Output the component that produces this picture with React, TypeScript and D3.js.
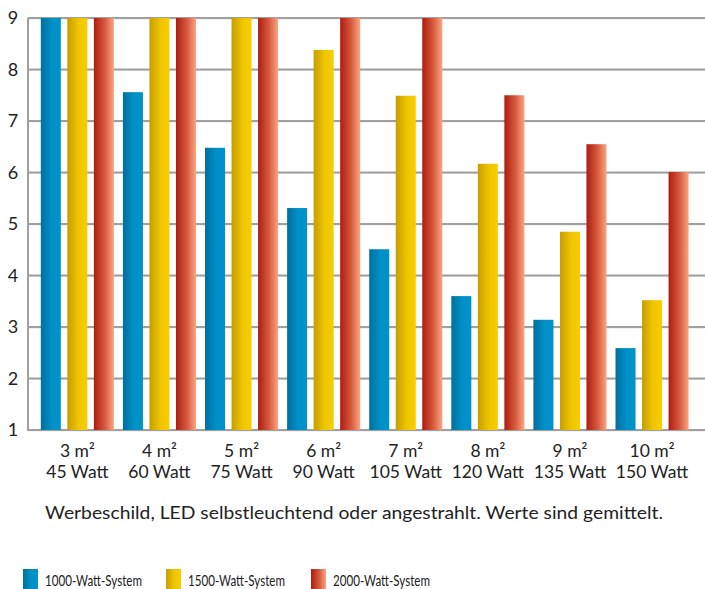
import React from "react";
import * as d3 from "d3";

const categories = ["3 m²|45 Watt", "4 m²|60 Watt", "5 m²|75 Watt", "6 m²|90 Watt", "7 m²|105 Watt", "8 m²|120 Watt", "9 m²|135 Watt", "10 m²|150 Watt"];
const seriesNames = ["1000-Watt-System", "1500-Watt-System", "2000-Watt-System"];
const s1000 = [9, 7.56, 6.48, 5.31, 4.51, 3.6, 3.14, 2.59];
const s1500 = [9, 9, 9, 8.38, 7.49, 6.17, 4.85, 3.52];
const s2000 = [9, 9, 9, 9, 9, 7.5, 6.55, 6.01];
const yTicks = [1, 2, 3, 4, 5, 6, 7, 8, 9];
const caption = "Werbeschild, LED selbstleuchtend oder angestrahlt. Werte sind gemittelt.";

const gradients = [
  ["#00709e", "#0090c8", "#0092ca"],
  ["#c69e00", "#efc500", "#f8cd00"],
  ["#ae1c0f", "#d65a3e", "#fba583"],
];

const W = 705, H = 589;
const FONT = "Lato, 'Open Sans', sans-serif";

export default function App() {
  const values = [s1000, s1500, s2000];
  const x0 = d3.scaleBand<string>().domain(categories).range([36.3, 693.1]).paddingInner(0).paddingOuter(0);
  const x1 = d3.scaleBand<number>().domain([0, 1, 2]).range([0, x0.bandwidth()]).paddingInner(0.245).paddingOuter(0.17);
  const y = d3.scaleLinear().domain([1, 9]).range([430, 18]);
  const left = 28;

  return (
    <svg width={W} height={H} style={{ position: "absolute", left: 0, top: 0, background: "#fff" }} fontFamily={FONT}>
      <defs>
        {gradients.map((g, i) => (
          <linearGradient key={i} id={`g${i}`} x1="0" x2="1" y1="0" y2="0">
            <stop offset="0%" stopColor={g[0]} />
            <stop offset="55%" stopColor={g[1]} />
            <stop offset="100%" stopColor={g[2]} />
          </linearGradient>
        ))}
      </defs>
      {yTicks.map((t) => (
        <g key={t}>
          <line x1={left} x2={W} y1={y(t) + 1} y2={y(t) + 1} stroke="#e6e6e6" strokeWidth={1} />
          <line x1={left} x2={W} y1={y(t)} y2={y(t)} stroke="#a0a0a0" strokeWidth={2} />
          <text x={13} y={y(t)} dy="0.36em" textAnchor="middle" fontSize={18} fill="#222">{t}</text>
        </g>
      ))}
      <line x1={left} x2={left} y1={y(9)} y2={y(1) + 1} stroke="#a0a0a0" strokeWidth={2} />
      {categories.map((c, ci) => (
        <g key={c} transform={`translate(${x0(c)},0)`}>
          {values.map((s, si) => (
            <rect key={si} x={x1(si)} y={y(s[ci])} width={x1.bandwidth()} height={y(1) - y(s[ci])} fill={`url(#g${si})`} />
          ))}
        </g>
      ))}
      {categories.map((c) => {
        const [a, b] = c.split("|");
        const cx = (x0(c) as number) + x0.bandwidth() / 2;
        return (
          <text key={c} x={cx} textAnchor="middle" fontSize={17.5} fill="#222">
            <tspan x={cx} y={457}>{a}</tspan>
            <tspan x={cx} y={478}>{b}</tspan>
          </text>
        );
      })}
      <text x={45} y={519} fontSize={18} fill="#222" textLength={618} lengthAdjust="spacingAndGlyphs">{caption}</text>
      {seriesNames.map((n, i) => {
        const lx = [23, 166, 311][i];
        return (
          <g key={n}>
            <rect x={lx} y={569} width={15} height={20} fill={`url(#g${i})`} />
            <text x={lx + 22} y={585.5} fontSize={16} fill="#222" textLength={97} lengthAdjust="spacingAndGlyphs">{n}</text>
          </g>
        );
      })}
    </svg>
  );
}
